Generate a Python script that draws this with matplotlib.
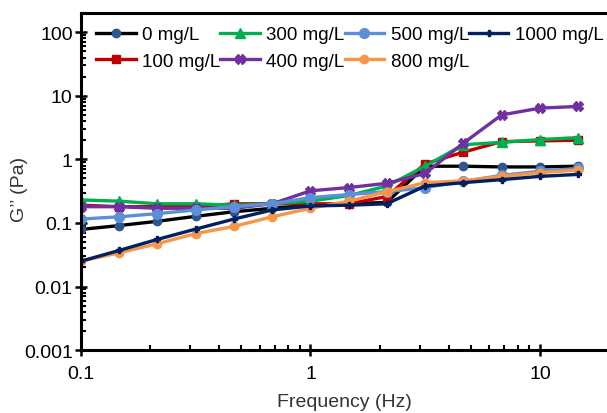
import matplotlib
matplotlib.use("Agg")
import matplotlib.pyplot as plt
from matplotlib.ticker import FixedLocator, FixedFormatter, LogLocator, NullFormatter

plt.rcParams['font.family'] = ['Liberation Sans', 'DejaVu Sans']

freq = [0.1, 0.147, 0.215, 0.316, 0.464, 0.681, 1.0, 1.47, 2.15, 3.16, 4.64, 6.81, 10.0, 14.7]

g_0 = [0.079, 0.091, 0.106, 0.127, 0.15, 0.17, 0.19, 0.2, 0.21, 0.78, 0.78, 0.76, 0.76, 0.78]
g_100 = [0.19, 0.18, 0.18, 0.18, 0.2, 0.2, 0.2, 0.2, 0.26, 0.85, 1.3, 1.9, 1.95, 2.0]
g_300 = [0.23, 0.22, 0.2, 0.2, 0.19, 0.2, 0.22, 0.27, 0.38, 0.78, 1.7, 1.85, 2.05, 2.2]
g_400 = [0.18, 0.18, 0.17, 0.17, 0.17, 0.2, 0.32, 0.36, 0.42, 0.6, 1.8, 5.0, 6.4, 6.8]
g_500 = [0.115, 0.125, 0.14, 0.16, 0.18, 0.2, 0.25, 0.28, 0.31, 0.36, 0.45, 0.56, 0.65, 0.72]
g_800 = [0.025, 0.034, 0.047, 0.068, 0.088, 0.125, 0.17, 0.22, 0.31, 0.43, 0.46, 0.54, 0.62, 0.68]
g_1000 = [0.025, 0.037, 0.055, 0.08, 0.115, 0.16, 0.185, 0.19, 0.2, 0.38, 0.43, 0.48, 0.54, 0.58]

labels = ["0 mg/L", "100 mg/L", "300 mg/L", "400 mg/L", "500 mg/L", "800 mg/L", "1000 mg/L"]
series = [g_0, g_100, g_300, g_400, g_500, g_800, g_1000]

ytick_vals = [0.001, 0.01, 0.1, 1, 10, 100]
ytick_labels = ["0.001", "0.01", "0.1", "1", "10", "100"]
xtick_vals = [0.1, 1, 10]
xtick_labels = ["0.1", "1", "10"]

styles = [
    dict(color="black", marker="o", mfc="#2e5690", mec="#2e5690", ms=6),
    dict(color="#c00000", marker="s", mfc="#c00000", mec="#c00000", ms=6),
    dict(color="#00b050", marker="^", mfc="#00b050", mec="#00b050", ms=7),
    dict(color="#7030a0", marker="X", mfc="#7030a0", mec="#7030a0", ms=7),
    dict(color="#5b8fd6", marker="o", mfc="#5b8fd6", mec="#5b8fd6", ms=7),
    dict(color="#f79646", marker="o", mfc="#f79646", mec="#f79646", ms=6),
    dict(color="#002060", marker="P", mfc="#002060", mec="#002060", ms=5),
]

fig = plt.figure(figsize=(6.07, 4.14), dpi=100)
ax = fig.add_axes([0.1334, 0.152, 0.8666, 0.814])

for lab, ys, st in zip(labels, series, styles):
    ax.plot(freq, ys, label=lab, lw=2.4, **st)

ax.set_xscale("log")
ax.set_yscale("log")
ax.set_xlim(0.1, 19.6)
ax.set_ylim(0.001, 200)

ax.xaxis.set_major_locator(FixedLocator(xtick_vals))
ax.xaxis.set_major_formatter(FixedFormatter(xtick_labels))
ax.yaxis.set_major_locator(FixedLocator(ytick_vals))
ax.yaxis.set_major_formatter(FixedFormatter(ytick_labels))
ax.xaxis.set_minor_locator(LogLocator(base=10, subs=range(2, 10)))
ax.yaxis.set_minor_locator(LogLocator(base=10, subs=range(2, 10)))
ax.xaxis.set_minor_formatter(NullFormatter())
ax.yaxis.set_minor_formatter(NullFormatter())

ax.tick_params(which="major", direction="inout", length=8, width=1.8, labelsize=14, pad=2)
ax.tick_params(axis="x", which="major", pad=7)
ax.tick_params(which="minor", direction="in", length=3.5, width=1.5)
ax.tick_params(axis="x", which="both", top=False)
ax.tick_params(axis="y", which="both", right=False)

for s in ["left", "bottom", "top"]:
    ax.spines[s].set_linewidth(2.2)
ax.spines["right"].set_visible(False)

ax.set_xlabel("Frequency (Hz)", fontsize=14, color="#333333")
ax.xaxis.set_label_coords(0.5, -0.128)
ax.set_ylabel("G\u2019\u2019 (Pa)", fontsize=14, color="#333333")
ax.yaxis.set_label_coords(-0.1, 0.48)

ax.legend(loc="upper left", bbox_to_anchor=(0.004, 1.0), ncol=4, frameon=False,
          fontsize=13.5, handlelength=2.1, columnspacing=0.0, handletextpad=0.35,
          labelspacing=0.5, borderaxespad=0.3)

fig.savefig("out.png", dpi=100)
